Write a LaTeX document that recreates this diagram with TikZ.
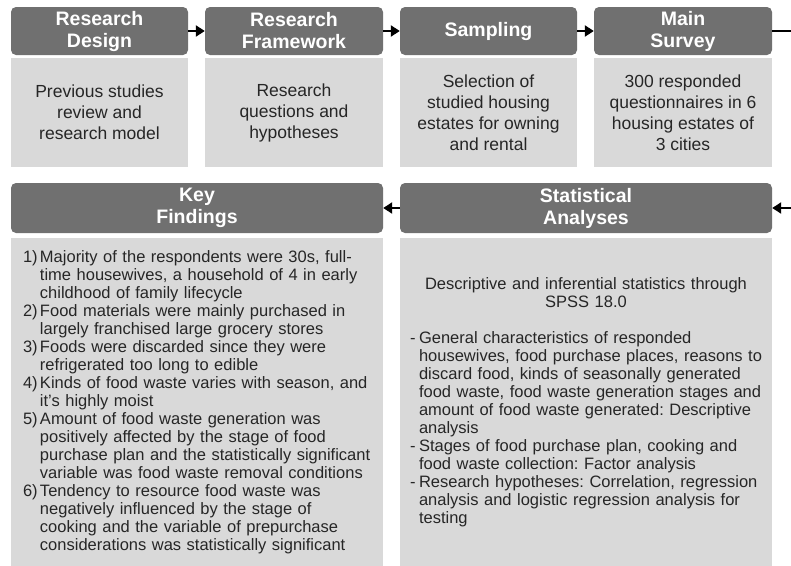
\documentclass[tikz,border=0pt]{standalone}
\usepackage{fontspec}
\setmainfont{Liberation Sans}
\usetikzlibrary{arrows.meta}
\frenchspacing
\hfuzz=20pt
\definecolor{hdrgray}{RGB}{112,112,112}
\definecolor{bodygray}{RGB}{217,217,217}
\definecolor{txtgray}{RGB}{38,38,38}
\newcommand{\itm}[1]{\makebox[17pt][l]{#1}}
\newcommand{\cnt}{\hspace*{17pt}}
\newcommand{\dsh}{\makebox[9pt][l]{-}}
\newcommand{\dcnt}{\hspace*{9pt}}

\begin{document}
\begin{tikzpicture}[x=1pt,y=-1pt,
  hdr/.style={rectangle, rounded corners=5pt, fill=hdrgray, text=white, align=center,
    inner sep=0pt, font=\fontsize{19.5}{22}\selectfont\bfseries},
  topbody/.style={rectangle, fill=bodygray, text=txtgray, align=center, inner sep=0pt,
    minimum width=177pt, minimum height=109pt, font=\fontsize{17.5}{21}\selectfont},
  lowbody/.style={rectangle, fill=bodygray, text=txtgray, align=left, inner sep=0pt,
    minimum width=372pt, minimum height=328pt, font=\fontsize{16.5}{18}\selectfont\frenchspacing},
  flow/.style={line width=2.5pt, -{Triangle[length=9pt,width=11pt]}}]
  \useasboundingbox (0,0) rectangle (791,565);

  \node[hdr, minimum width=177pt, minimum height=48pt] (h1) at (99.5,31) {Research\\Design};
  \node[hdr, minimum width=178pt, minimum height=48pt] (h2) at (294,31) {Research\\Framework};
  \node[hdr, minimum width=177pt, minimum height=48pt] (h3) at (488.5,31) {Sampling};
  \node[hdr, minimum width=178pt, minimum height=48pt] (h4) at (683,31) {Main\\Survey};

  \node[topbody] (b1) at (99.5,112.5) {Previous studies\\review and\\research model};
  \node[topbody, minimum width=178pt] (b2) at (294,112.5) {Research\\questions and\\hypotheses};
  \node[topbody] (b3) at (488.5,112.5) {Selection of\\studied housing\\estates for owning\\and rental};
  \node[topbody, minimum width=178pt] (b4) at (683,112.5) {300 responded\\questionnaires in 6\\housing estates of\\3 cities};

  \node[hdr, minimum width=372pt, minimum height=50pt] (hkey) at (197,208) {Key\\Findings};
  \node[hdr, minimum width=372pt, minimum height=50pt] (hstat) at (586,208) {Statistical\\Analyses};

  \node[lowbody, text width=348pt] (bkey) at (197,402) {%
    \itm{1)}Majority of the respondents were 30s, full-\\
    \cnt time housewives, a household of 4 in early\\
    \cnt childhood of family lifecycle\\
    \itm{2)}Food materials were mainly purchased in\\
    \cnt largely franchised large grocery stores\\
    \itm{3)}Foods were discarded since they were\\
    \cnt refrigerated too long to edible\\
    \itm{4)}Kinds of food waste varies with season, and\\
    \cnt it’s highly moist\\
    \itm{5)}Amount of food waste generation was\\
    \cnt positively affected by the stage of food\\
    \cnt \mbox{purchase plan and the statistically significant}\\
    \cnt \mbox{variable was food waste removal conditions}\\
    \itm{6)}Tendency to resource food waste was\\
    \cnt negatively influenced by the stage of\\
    \cnt cooking and the variable of prepurchase\\
    \cnt considerations was statistically significant};
  \node[lowbody, text width=352pt] (bstat) at (586,402) {%
    \makebox[352pt][c]{Descriptive and inferential statistics through}\\
    \makebox[352pt][c]{SPSS 18.0}\\[18pt]
    \dsh General characteristics of responded\\
    \dcnt \mbox{housewives, food purchase places, reasons to}\\
    \dcnt discard food, kinds of seasonally generated\\
    \dcnt \mbox{food waste, food waste generation stages and}\\
    \dcnt \mbox{amount of food waste generated: Descriptive}\\
    \dcnt analysis\\
    \dsh Stages of food purchase plan, cooking and\\
    \dcnt food waste collection: Factor analysis\\
    \dsh \mbox{Research hypotheses: Correlation, regression}\\
    \dcnt analysis and logistic regression analysis for\\
    \dcnt testing};

  \coordinate (out) at (791,31);
  \coordinate (in) at (791,208);
  \draw[flow] (h1) -- (h2);
  \draw[flow] (h2) -- (h3);
  \draw[flow] (h3) -- (h4);
  \draw[line width=2.5pt] (h4) -- (out);
  \draw[flow] (in) -- (hstat);
  \draw[flow] (hstat) -- (hkey);
\end{tikzpicture}
\end{document}
